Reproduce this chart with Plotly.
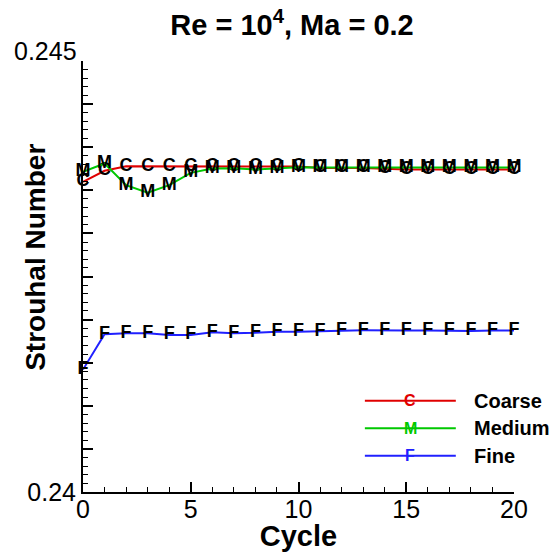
import plotly.graph_objects as go

cycles = list(range(21))
coarse = [0.243598, 0.243726, 0.24378, 0.24378, 0.24378, 0.24378, 0.24378, 0.24378,
          0.24378, 0.24378, 0.243775, 0.24376, 0.24376, 0.24376, 0.24375, 0.24374,
          0.24374, 0.24374, 0.24374, 0.24374, 0.24374]
medium = [0.243714, 0.243811, 0.24356, 0.243471, 0.24356, 0.243702, 0.243753, 0.243756,
          0.24374, 0.243753, 0.243768, 0.243765, 0.243765, 0.243765, 0.243765, 0.243765,
          0.243765, 0.243765, 0.243765, 0.243765, 0.243765]
fine = [0.24142, 0.24183, 0.241842, 0.241842, 0.241822, 0.241822, 0.241853, 0.241842,
        0.241846, 0.24186, 0.24186, 0.241862, 0.241872, 0.241876, 0.241872, 0.241874,
        0.241874, 0.241868, 0.241868, 0.241874, 0.241874]

series = [("Coarse", "C", coarse, "#e00000"),
          ("Medium", "M", medium, "#00c800"),
          ("Fine", "F", fine, "#2020ff")]

y_range = [0.24, 0.245]
y_bottom_label = "0.24"
y_top_label = "0.245"

FONT = "Liberation Sans, Arial, sans-serif"

fig = go.Figure()
for name, letter, vals, col in series:
    fig.add_trace(go.Scatter(
        x=cycles, y=vals, mode="lines+text", name=name,
        line=dict(color=col, width=2),
        text=[letter] * len(cycles), textposition="middle center",
        textfont=dict(family=FONT, size=18, color="black", weight="bold"),
        showlegend=False, cliponaxis=False))

# manual legend
leg_y = [0.212, 0.148, 0.084]
shapes = []
annotations = []
for (name, letter, vals, col), yy in zip(series, leg_y):
    annotations.append(dict(x=0.759, y=yy, xref="paper", yref="paper", text="<b>%s</b>" % letter,
                            showarrow=False, font=dict(family=FONT, size=16, color=col),
                            xanchor="center", yanchor="middle"))
    shapes.append(dict(type="line", xref="paper", yref="paper", x0=0.654, x1=0.865, y0=yy, y1=yy,
                       line=dict(color=col, width=2), layer="above"))
    annotations.append(dict(x=0.902, y=yy, xref="paper", yref="paper", text="<b>%s</b>" % name,
                            showarrow=False, font=dict(family=FONT, size=20, color="black"),
                            xanchor="left", yanchor="middle"))

annotations.append(dict(x=-0.112, y=0.545, xref="paper", yref="paper", text="<b>Strouhal Number</b>",
                        textangle=-90, showarrow=False, font=dict(family=FONT, size=28, color="black"),
                        xanchor="center", yanchor="middle"))
# top y tick label (drawn slightly above its tick, as in the reference)
annotations.append(dict(x=0, y=y_range[1], xref="paper", yref="y", text=y_top_label, showarrow=False,
                        font=dict(family=FONT, size=25, color="black"), xanchor="right", yanchor="middle",
                        xshift=-4, yshift=10))

fig.update_layout(
    width=552, height=552,
    margin=dict(l=83, r=38, t=61, b=60, autoexpand=False),
    paper_bgcolor="white", plot_bgcolor="white",
    title=dict(text="<b>Re = 10<sup>4</sup>, Ma = 0.2</b>", x=0.529, xanchor="center", y=0.955, yanchor="middle",
               font=dict(family=FONT, size=29, color="black")),
    shapes=shapes, annotations=annotations,
    xaxis=dict(range=[0, 20], tickvals=[0, 5, 10, 15, 20], ticks="inside", ticklen=10, tickwidth=2,
               tickcolor="black", showline=True, linecolor="black", linewidth=2, mirror=False,
               showgrid=False, zeroline=False, automargin=False, ticklabelstandoff=-6,
               tickfont=dict(family=FONT, size=25, color="black"),
               minor=dict(dtick=1, tick0=0, ticks="inside", ticklen=5, tickwidth=1, tickcolor="black"),
               title=dict(text="<b>Cycle</b>", font=dict(family=FONT, size=29, color="black"), standoff=0)),
    yaxis=dict(range=y_range, tickvals=[y_range[0]], ticktext=[y_bottom_label], ticks="inside", ticklen=10,
               tickwidth=2, tickcolor="black", showline=True, linecolor="black", linewidth=2, mirror=False,
               showgrid=False, zeroline=False, automargin=False,
               tickfont=dict(family=FONT, size=25, color="black"),
               minor=dict(dtick=0.0001, tick0=0.24, ticks="inside", ticklen=5, tickwidth=1, tickcolor="black")),
    yaxis2=dict(range=y_range, overlaying="y", side="left", dtick=0.0005, tick0=0.24, ticks="inside",
                ticklen=10, tickwidth=2, tickcolor="black", showticklabels=False, showline=False,
                showgrid=False, zeroline=False, automargin=False),
)
# invisible helper trace so the overlay axis (major ticks without labels) is drawn
fig.add_trace(go.Scatter(x=[cycles[0]], y=[y_range[0]], yaxis="y2", mode="markers",
                         marker=dict(opacity=0), showlegend=False, hoverinfo="skip"))

fig.write_html("out.html", config={"displayModeBar": False},
               post_script="document.body.style.margin='0px';")
